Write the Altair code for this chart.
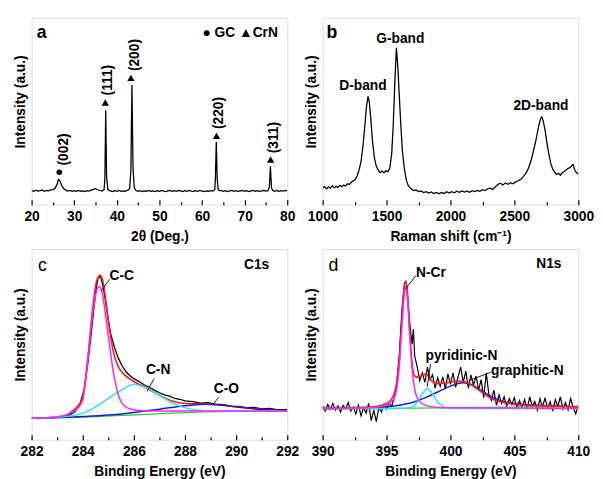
import altair as alt
import pandas as pd

FONT = "Liberation Sans"

# ---------------- Panel a: XRD ----------------
XRD_X = [20.0, 20.5, 21.0, 21.5, 22.0, 22.5, 23.0, 23.5, 24.0, 24.5, 25.0, 25.5, 26.0, 26.3, 26.6, 27.0,
         27.5, 28.0, 28.5, 29.0, 29.5, 30.0, 30.5, 31.0, 31.5, 32.0, 32.5, 33.0, 33.5, 34.0, 34.5, 35.0,
         35.5, 36.0, 36.5, 37.0, 37.2, 37.4, 37.6, 37.9, 38.5, 39.0, 39.5, 40.0, 40.5, 41.0, 41.5, 42.0,
         42.5, 43.0, 43.3, 43.55, 43.8, 44.1, 44.5, 45.0, 45.5, 46.0, 46.5, 47.0, 47.5, 48.0, 48.5, 49.0,
         49.5, 50.0, 50.5, 51.0, 51.5, 52.0, 52.5, 53.0, 53.5, 54.0, 54.5, 55.0, 55.5, 56.0, 56.5, 57.0,
         57.5, 58.0, 58.5, 59.0, 59.5, 60.0, 60.5, 61.0, 61.5, 62.0, 62.5, 63.0, 63.15, 63.35, 63.55, 63.8,
         64.3, 64.5, 65.0, 65.5, 66.0, 66.5, 67.0, 67.5, 68.0, 68.5, 69.0, 69.5, 70.0, 70.5, 71.0, 71.5,
         72.0, 72.5, 73.0, 73.5, 74.0, 74.5, 75.0, 75.5, 75.8, 76.05, 76.3, 76.6, 77.0, 77.5, 78.0, 78.5,
         79.0, 79.5, 80.0]
XRD_Y = [7.6, 7.2, 7.8, 7.3, 7.5, 7.9, 7.2, 7.6, 7.4, 7.9, 8.1, 8.8, 11.0, 13.5, 13.0, 10.5,
         8.6, 7.8, 7.3, 7.6, 7.2, 7.5, 7.1, 7.6, 7.2, 7.4, 7.0, 7.5, 7.3, 7.8, 8.2, 8.6,
         8.0, 7.6, 7.3, 7.9, 14.0, 50.5, 15.0, 8.0, 7.4, 7.0, 7.5, 7.2, 7.6, 7.1, 7.4, 7.2,
         7.7, 8.5, 18.0, 64.0, 20.0, 9.0, 7.6, 7.2, 7.5, 7.0, 7.4, 7.2, 7.6, 7.1, 7.4, 7.0,
         7.5, 7.2, 7.6, 7.3, 7.0, 7.4, 7.7, 7.2, 7.5, 7.1, 7.6, 7.4, 7.0, 7.5, 7.2, 7.6,
         7.3, 7.1, 7.5, 7.2, 7.6, 7.3, 7.0, 7.4, 7.2, 7.5, 7.3, 8.0, 15.0, 33.7, 14.0, 8.0,
         7.4, 7.6, 7.2, 7.5, 7.0, 7.4, 7.7, 7.2, 7.5, 7.1, 7.4, 7.6, 7.2, 7.5, 7.0, 7.4,
         7.7, 7.2, 7.5, 7.1, 7.4, 7.6, 7.3, 7.5, 9.5, 20.5, 9.0, 7.6, 7.2, 7.6, 7.1, 7.5,
         7.3, 7.6, 7.4]
XRD_TICKS = [20, 25, 30, 35, 40, 45, 50, 55, 60, 65, 70, 75, 80]

CRN_X = [37.3, 43.3, 63.4, 76.1]
CRN_Y = [54.7, 67.9, 36.8, 24.2]
GC_X = [26.5]
GC_Y = [17.4]
HKL_TEXT = ["(002)", "(111)", "(200)", "(220)", "(311)"]
HKL_X = [27.6, 38.0, 44.2, 64.1, 76.8]
HKL_Y = [21.0, 58.5, 71.5, 40.5, 27.5]

# ---------------- Panel b: Raman ----------------
RAMAN_X = [1000, 1015, 1030, 1045, 1060, 1075, 1090, 1105, 1120, 1135, 1150, 1165, 1180, 1195, 1210, 1225,
           1240, 1255, 1270, 1285, 1300, 1315, 1330, 1342, 1355, 1365, 1378, 1390, 1405, 1420, 1435, 1450,
           1465, 1480, 1495, 1510, 1525, 1540, 1552, 1565, 1577, 1588, 1600, 1612, 1625, 1640, 1655, 1670,
           1690, 1710, 1730, 1750, 1770, 1790, 1810, 1830, 1850, 1870, 1890, 1910, 1930, 1950, 1970, 1990,
           2010, 2030, 2050, 2070, 2090, 2110, 2130, 2150, 2170, 2190, 2210, 2230, 2250, 2270, 2290, 2310,
           2330, 2350, 2370, 2390, 2410, 2430, 2450, 2470, 2490, 2510, 2530, 2550, 2570, 2590, 2610, 2630,
           2650, 2670, 2690, 2705, 2715, 2725, 2740, 2755, 2770, 2785, 2800, 2815, 2830, 2845, 2860, 2875,
           2890, 2905, 2920, 2935, 2950, 2960, 2970, 2985, 3000]
RAMAN_Y = [8.8, 9.8, 8.5, 9.6, 8.9, 10.2, 9.0, 9.9, 9.3, 10.4, 9.6, 10.5, 10.0, 11.2, 10.8, 12.0,
           12.8, 13.5, 15.5, 18.5, 23.0, 31.0, 42.0, 52.0, 58.0, 55.0, 45.0, 34.0, 25.0, 20.5, 18.5, 17.2,
           18.0, 17.0, 18.2, 17.6, 19.5, 27.0, 42.0, 66.0, 84.0, 74.0, 58.0, 42.0, 28.0, 19.0, 13.0, 10.2,
           8.6, 7.6, 7.9, 7.0, 7.4, 6.5, 7.0, 6.2, 6.8, 6.0, 6.6, 5.8, 6.5, 6.0, 6.9, 6.2,
           7.0, 6.4, 7.2, 6.6, 7.4, 6.8, 7.2, 6.7, 7.5, 7.0, 7.6, 7.2, 8.0, 7.6, 8.4, 8.8,
           8.2, 9.5, 10.8, 11.5, 10.6, 11.6, 10.9, 11.8, 11.2, 12.2, 12.8, 13.6, 15.0, 16.8, 19.5, 23.5,
           29.0, 35.0, 42.0, 46.0, 47.0, 45.0, 40.0, 33.0, 27.0, 22.0, 19.0, 17.5, 16.2, 16.8, 15.8, 17.2,
           17.8, 18.6, 19.5, 19.8, 21.0, 21.5, 19.0, 17.2, 16.5]
RAMAN_TICKS = [1000, 1250, 1500, 1750, 2000, 2250, 2500, 2750, 3000]
BAND_TEXT = ["D-band", "G-band", "2D-band"]
BAND_X = [1315, 1608, 2708]
BAND_Y = [63.7, 88.9, 52.6]

# ---------------- Panel c: C1s ----------------
C1S_X = [282.0, 282.3, 282.6, 282.9, 283.2, 283.5, 283.7, 283.9, 284.05, 284.2, 284.35, 284.5, 284.6,
         284.7, 284.8, 284.9, 285.0, 285.1, 285.25, 285.4, 285.55, 285.7, 285.85, 286.0, 286.2, 286.4,
         286.6, 286.8, 287.0, 287.2, 287.4, 287.6, 287.8, 288.0, 288.3, 288.6, 288.9, 289.2, 289.5, 289.8,
         290.1, 290.4, 290.7, 291.0, 291.3, 291.6, 292.0]
C1S_RAW = [11.3, 11.0, 11.4, 11.5, 12.0, 13.0, 14.8, 19.0, 26.0, 40.0, 58.0, 77.0, 85.0,
           85.5, 80.0, 72.0, 63.0, 55.0, 48.0, 42.5, 38.5, 35.5, 33.5, 32.0, 30.5, 28.8,
           27.5, 26.0, 24.6, 23.5, 22.8, 21.6, 21.2, 20.3, 20.0, 19.2, 19.4, 18.6, 18.4, 17.6,
           17.5, 16.8, 16.9, 16.2, 16.4, 15.7, 15.8]
C1S_FIT_X = [282.0, 283.0, 283.5, 283.8, 284.0, 284.2, 284.4, 284.55, 284.68, 284.8, 285.0, 285.2, 285.4,
             285.6, 286.0, 286.5, 287.0, 287.5, 288.0, 289.0, 290.0, 291.0, 292.0]
C1S_FIT_Y = [11.2, 11.7, 14.0, 17.5, 22.0, 43.0, 70.0, 83.5, 86.2, 82.5, 62.0, 46.0, 38.0,
             34.5, 30.5, 27.0, 23.3, 20.3, 19.0, 18.6, 17.2, 15.9, 15.0]
CC_X = [282.0, 283.0, 283.5, 283.8, 284.0, 284.2, 284.4, 284.55, 284.64, 284.75, 284.9, 285.0, 285.2,
        285.4, 285.6, 285.9, 286.3, 287.0, 288.0, 290.0, 292.0]
CC_Y = [11.2, 12.0, 13.8, 16.5, 20.7, 42.0, 67.0, 78.4, 80.2, 77.6, 64.6, 54.3, 35.3,
        23.3, 18.1, 16.0, 15.2, 15.0, 15.0, 15.0, 15.0]
CN_X = [282.0, 283.0, 284.0, 284.5, 285.0, 285.5, 286.0, 286.5, 287.0, 287.5, 288.0, 288.5, 289.0, 290.0, 292.0]
CN_Y = [11.2, 11.7, 13.8, 17.2, 21.6, 25.9, 29.0, 27.0, 23.3, 19.3, 16.7, 15.5, 15.0, 15.0, 15.0]
CO_X = [282.0, 284.0, 285.0, 286.0, 287.0, 288.0, 288.8, 289.5, 290.0, 291.0, 292.0]
CO_Y = [11.2, 12.1, 12.9, 14.3, 16.0, 17.8, 18.6, 18.1, 17.2, 15.9, 15.0]
C_BG_X = [282.0, 284.0, 286.0, 288.0, 290.0, 292.0]
C_BG_Y = [11.2, 11.8, 13.0, 14.2, 14.8, 15.0]
C1S_TICKS = [282, 283, 284, 285, 286, 287, 288, 289, 290, 291, 292]
C_LABELS = ["C-C", "C-N", "C-O"]
C_LABEL_X = [285.05, 286.95, 289.62]
C_LABEL_Y = [85.6, 36.6, 26.8]
C_ARROW_X = [284.72, 286.52, 289.13]
C_ARROW_Y = [78.0, 25.3, 19.1]
C_ARROW_X2 = [285.05, 286.79, 289.32]
C_ARROW_Y2 = [84.0, 32.0, 22.2]

# ---------------- Panel d: N1s ----------------
N1S_X = [390.0, 390.2, 390.4, 390.6, 390.8, 391.0, 391.2, 391.4, 391.6, 391.8, 392.0, 392.2, 392.4, 392.6,
         392.8, 393.0, 393.2, 393.4, 393.6, 393.8, 394.0, 394.2, 394.4, 394.6, 394.8, 395.0, 395.2, 395.4,
         395.6, 395.8, 396.0, 396.2, 396.4, 396.5, 396.6, 396.8, 397.0, 397.1, 397.2, 397.4, 397.6, 397.8,
         398.0, 398.2, 398.4, 398.6, 398.8, 399.0, 399.2, 399.4, 399.6, 399.8, 400.0, 400.2, 400.4, 400.6,
         400.8, 401.0, 401.2, 401.4, 401.6, 401.8, 402.0, 402.2, 402.4, 402.6, 402.8, 403.0, 403.2, 403.4,
         403.6, 403.8, 404.0, 404.2, 404.4, 404.6, 404.8, 405.0, 405.2, 405.4, 405.6, 405.8, 406.0, 406.2,
         406.4, 406.6, 406.8, 407.0, 407.2, 407.4, 407.6, 407.8, 408.0, 408.2, 408.4, 408.6, 408.8, 409.0,
         409.2, 409.4, 409.6, 409.8, 410.0]
N1S_RAW = [17.5, 15.0, 18.5, 16.0, 19.0, 15.5, 17.8, 14.5, 18.0, 16.2, 19.5, 15.0, 17.0, 13.5,
           18.2, 12.5, 16.8, 14.0, 19.0, 10.0, 15.5, 9.5, 17.0, 14.5, 18.5, 16.0, 19.0, 17.5,
           22.0, 30.0, 45.0, 68.0, 82.0, 83.0, 79.0, 62.0, 50.0, 58.0, 44.0, 38.0, 31.0, 35.0,
           30.0, 38.0, 31.5, 34.0, 27.0, 32.5, 28.0, 33.0, 26.5, 34.5, 29.0, 35.0, 27.5, 33.0,
           38.0, 30.0, 36.0, 27.0, 34.0, 28.5, 33.5, 26.0, 31.5, 22.0, 35.0, 24.0, 20.5, 26.0,
           18.0, 23.5, 19.0, 22.5, 17.5, 21.5, 18.5, 22.0, 16.5, 20.5, 17.0, 21.0, 16.0, 22.5,
           17.5, 20.0, 15.5, 21.5, 17.0, 22.0, 16.5, 20.0, 15.0, 21.0, 17.5, 22.5, 16.0, 19.5,
           15.5, 21.5, 17.0, 13.5, 18.0]
N1S_FIT_X = [390.0, 392.0, 394.0, 395.0, 395.5, 395.8, 396.0, 396.2, 396.35, 396.5, 396.65, 396.8, 397.0,
             397.2, 397.45, 397.8, 398.1, 398.5, 399.0, 399.5, 400.0, 400.5, 401.0, 401.5, 402.0, 402.5,
             403.0, 403.5, 404.0, 405.0, 406.0, 408.0, 410.0]
N1S_FIT_Y = [16.4, 16.6, 17.2, 19.0, 22.5, 30.0, 42.0, 62.0, 78.0, 83.0, 76.0, 58.0, 40.0,
             33.5, 32.8, 33.8, 34.5, 31.0, 29.3, 29.7, 30.2, 30.7, 30.5, 29.3, 27.0, 24.7,
             22.4, 20.7, 19.8, 18.6, 18.1, 17.6, 17.2]
NCR_X = [390.0, 394.0, 395.0, 395.5, 395.8, 396.0, 396.2, 396.35, 396.5, 396.65, 396.8, 397.0, 397.2,
         397.5, 398.0, 399.0, 400.0, 410.0]
NCR_Y = [16.4, 16.9, 18.1, 20.7, 26.7, 38.8, 59.5, 73.3, 80.2, 72.4, 56.0, 37.0, 26.7,
         20.7, 18.1, 16.9, 16.7, 16.4]
PYR_X = [390.0, 396.0, 397.0, 397.5, 397.8, 398.2, 398.6, 399.0, 399.5, 400.0, 410.0]
PYR_Y = [16.4, 16.4, 17.2, 20.7, 24.1, 26.7, 24.1, 19.8, 17.2, 16.4, 16.4]
GRA_X = [390.0, 394.0, 396.0, 397.0, 398.0, 399.0, 400.0, 401.0, 402.0, 403.0, 404.0, 405.0, 406.0, 408.0, 410.0]
GRA_Y = [16.4, 16.9, 18.1, 19.5, 21.9, 25.0, 28.1, 29.8, 27.6, 23.3, 20.3, 19.0, 18.3, 17.8, 17.2]
N_BG_X = [390.0, 410.0]
N_BG_Y = [16.0, 17.4]
N1S_TICKS = [390, 392.5, 395, 397.5, 400, 402.5, 405, 407.5, 410]
N_LABELS = ["N-Cr", "pyridinic-N", "graphitic-N"]
N_LABEL_X = [397.3, 398.05, 403.18]
N_LABEL_Y = [87.1, 43.8, 36.1]
N_ARROW_X = [396.5, 398.18, 401.5]
N_ARROW_Y = [79.2, 27.7, 31.1]
N_ARROW_X2 = [397.3, 398.44, 403.18]
N_ARROW_Y2 = [86.0, 39.7, 35.4]

W, H_TOP, H_BOT = 260, 190, 194


def xenc(domain, ticks, major, title):
    return alt.X(
        "x:Q",
        scale=alt.Scale(domain=domain, nice=False, zero=False),
        axis=alt.Axis(
            values=ticks, title=title, grid=False, domain=False,
            labelExpr=f"datum.value % {major} === 0 ? format(datum.value, 'd') : ''",
            tickSize=5, offset=-5, tickColor="black", tickWidth=1.2,
            tickDash={"condition": {"test": f"datum.value % {major} !== 0", "value": [0, 2, 3, 10]},
                      "value": [10, 0]},
            labelFlush=False, labelOverlap=False, labelPadding=5,
            labelFont=FONT, labelFontSize=14, labelFontWeight="bold", labelColor="black",
            titleFont=FONT, titleFontSize=14, titleFontWeight="bold", titleColor="black",
            titlePadding=6,
        ),
    )


def yenc(h):
    return alt.Y(
        "y:Q",
        scale=alt.Scale(domain=[0, 100], nice=False, zero=False),
        axis=alt.Axis(
            title="Intensity (a.u.)", labels=False, ticks=False, domain=False, grid=False,
            minExtent=0, titlePadding=4, titleY=h / 2 - 10,
            titleFont=FONT, titleFontSize=14, titleFontWeight="bold", titleColor="black",
        ),
    )


def line(xs, ys, X, Y, color, width=1.3, interp="linear"):
    df = pd.DataFrame({"x": xs, "y": ys})
    return alt.Chart(df).mark_line(color=color, strokeWidth=width, clip=True,
                                   interpolate=interp).encode(x=X, y=Y)


def texts(xs, ys, labels, X, Y, **kw):
    df = pd.DataFrame({"x": xs, "y": ys, "t": labels})
    return alt.Chart(df).mark_text(font=FONT, color="black", **kw).encode(x=X, y=Y, text="t:N")


def rules(xs, ys, x2s, y2s, X, Y):
    df = pd.DataFrame({"x": xs, "y": ys, "x2": x2s, "y2": y2s})
    return alt.Chart(df).mark_rule(color="black", strokeWidth=0.9).encode(
        x=X, y=Y, x2="x2:Q", y2="y2:Q")


# Panel a
Xa = xenc([20, 80], XRD_TICKS, 10, "2θ (Deg.)")
Ya = yenc(H_TOP)
panel_a = alt.layer(
    line(XRD_X, XRD_Y, Xa, Ya, "black", 1.3),
    alt.Chart(pd.DataFrame({"x": CRN_X, "y": CRN_Y})).mark_point(
        shape="triangle-up", filled=True, color="black", size=55, opacity=1).encode(x=Xa, y=Ya),
    alt.Chart(pd.DataFrame({"x": GC_X, "y": GC_Y})).mark_point(
        shape="circle", filled=True, color="black", size=32, opacity=1).encode(x=Xa, y=Ya),
    texts(HKL_X, HKL_Y, HKL_TEXT, Xa, Ya, angle=270, align="left", baseline="middle",
          fontSize=14, fontWeight="bold"),
    texts([21.2], [92.0], ["a"], Xa, Ya, align="left", baseline="middle", fontSize=18, fontWeight="bold"),
    texts([77.8], [92.0], ["● GC ▲CrN"], Xa, Ya, align="right", baseline="middle",
          fontSize=14, fontWeight="bold"),
).properties(width=W, height=H_TOP)

# Panel b
Xb = xenc([1000, 3000], RAMAN_TICKS, 500, "Raman shift (cm⁻¹)")
Yb = yenc(H_TOP)
panel_b = alt.layer(
    line(RAMAN_X, RAMAN_Y, Xb, Yb, "black", 1.3),
    texts(BAND_X, BAND_Y, BAND_TEXT, Xb, Yb, align="center", baseline="middle",
          fontSize=14, fontWeight="bold"),
    texts([1030], [92.0], ["b"], Xb, Yb, align="left", baseline="middle", fontSize=18, fontWeight="bold"),
).properties(width=W, height=H_TOP)

# Panel c
Xc = xenc([282, 292], C1S_TICKS, 2, "Binding Energy (eV)")
Yc = yenc(H_BOT)
panel_c = alt.layer(
    line(C1S_X, C1S_RAW, Xc, Yc, "black", 1.3),
    line(C1S_FIT_X, C1S_FIT_Y, Xc, Yc, "#ff1a1a", 1.6, "monotone"),
    line(C_BG_X, C_BG_Y, Xc, Yc, "#33cc33", 1.3, "monotone"),
    line(CO_X, CO_Y, Xc, Yc, "#1a1acc", 1.5, "monotone"),
    line(CN_X, CN_Y, Xc, Yc, "#22e5ee", 1.5, "monotone"),
    line(CC_X, CC_Y, Xc, Yc, "#ff22ff", 1.5, "monotone"),
    rules(C_ARROW_X, C_ARROW_Y, C_ARROW_X2, C_ARROW_Y2, Xc, Yc),
    texts(C_LABEL_X, C_LABEL_Y, C_LABELS, Xc, Yc, align=alt.ExprRef("datum.t == 'C-C' ? 'left' : 'center'"),
          baseline="middle", fontSize=14, fontWeight="bold"),
    texts([282.25], [91.0], ["c"], Xc, Yc, align="left", baseline="middle", fontSize=18),
    texts([290.8], [91.5], ["C1s"], Xc, Yc, align="center", baseline="middle", fontSize=14, fontWeight="bold"),
).properties(width=W, height=H_BOT)

# Panel d
Xd = xenc([390, 410], N1S_TICKS, 5, "Binding Energy (eV)")
Yd = yenc(H_BOT)
panel_d = alt.layer(
    line(N1S_X, N1S_RAW, Xd, Yd, "black", 1.2),
    line(N_BG_X, N_BG_Y, Xd, Yd, "#33cc33", 1.3),
    line(GRA_X, GRA_Y, Xd, Yd, "#1a1acc", 1.5, "monotone"),
    line(PYR_X, PYR_Y, Xd, Yd, "#22e5ee", 1.5, "monotone"),
    line(N1S_FIT_X, N1S_FIT_Y, Xd, Yd, "#ff1a1a", 1.6, "monotone"),
    line(NCR_X, NCR_Y, Xd, Yd, "#ff22ff", 1.5, "monotone"),
    rules(N_ARROW_X, N_ARROW_Y, N_ARROW_X2, N_ARROW_Y2, Xd, Yd),
    texts(N_LABEL_X, N_LABEL_Y, N_LABELS, Xd, Yd, align="left", baseline="middle",
          fontSize=14, fontWeight="bold"),
    texts([390.45], [91.0], ["d"], Xd, Yd, align="left", baseline="middle", fontSize=18),
    texts([407.7], [92.0], ["N1s"], Xd, Yd, align="center", baseline="middle", fontSize=14, fontWeight="bold"),
).properties(width=W, height=H_BOT)

chart = alt.concat(
    panel_a, panel_b, panel_c, panel_d, columns=2,
    spacing=alt.RowColnumber(row=45, column=36), bounds="flush",
).properties(
    padding={"left": 5, "top": 5, "right": 0, "bottom": 0}
).configure_view(stroke="black", strokeWidth=1.6).configure(background="white")

chart.save("out.html", embed_options={"renderer": "svg", "actions": False})
